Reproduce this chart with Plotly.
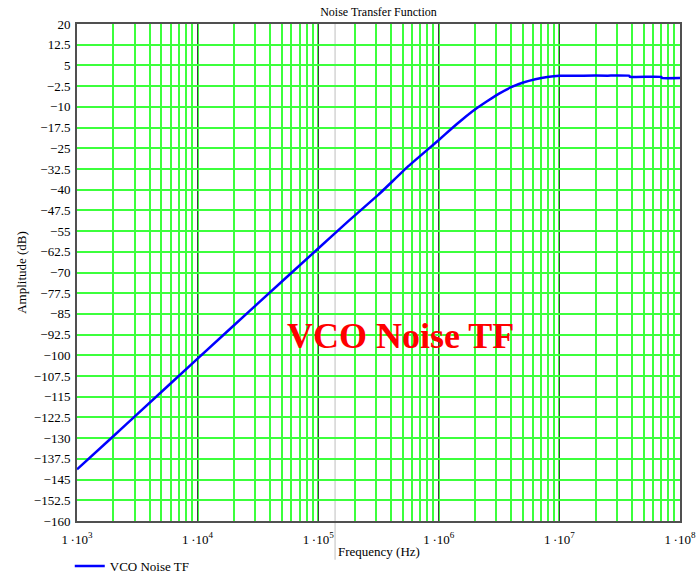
import plotly.graph_objects as go

# Data (frequency in Hz, amplitude in dB)
freq_hz = [1.0e3, 2.0e3, 3.162e3, 1.0e4, 3.162e4, 1.0e5, 1.778e5, 3.162e5, 5.623e5,
           1.0e6, 1.259e6, 1.585e6, 1.995e6, 2.512e6, 3.162e6, 3.981e6, 5.012e6,
           6.310e6, 7.943e6, 1.0e7, 1.585e7, 2.512e7, 3.80e7, 3.85e7, 7.0e7, 7.05e7, 1.0e8]
amp_db = [-141.3, -129.3, -121.3, -101.2, -81.2, -61.3, -51.4, -41.8, -31.4,
          -22.0, -18.1, -14.4, -11.0, -8.0, -5.2, -2.9, -1.2,
          0.0, 0.8, 1.25, 1.3, 1.3, 1.25, 0.85, 0.85, 0.45, 0.4]

series_name = "VCO Noise TF"
x_title = "Frequency (Hz)"
x_tick_vals = [1e3, 1e4, 1e5, 1e6, 1e7, 1e8]
x_tick_text = ["1\u2009·10<sup>%d</sup>" % e for e in range(3, 9)]

serif = "Liberation Serif"
green = "rgb(60,255,60)"

fig = go.Figure()
fig.add_trace(go.Scatter(
    x=freq_hz, y=amp_db, mode="lines", name=series_name,
    line=dict(color="#0000ff", width=2.5, shape="spline", smoothing=0.3),
))

fig.update_layout(
    width=697, height=577,
    margin=dict(l=77, r=17, t=24, b=56, autoexpand=False),
    paper_bgcolor="white", plot_bgcolor="white",
    font=dict(family=serif, size=13, color="black"),
    title=dict(text="Noise Transfer Function", x=0.543, xanchor="center",
               y=1 - 12 / 577, yanchor="middle", yref="container",
               font=dict(family=serif, size=12, color="black")),
    showlegend=True,
    legend=dict(x=-0.012, xanchor="left", y=1 - 566 / 577, yanchor="middle",
                yref="container",
                bgcolor="rgba(0,0,0,0)", font=dict(family=serif, size=13),
                itemwidth=30),
    annotations=[
        dict(text="<b>VCO Noise TF</b>", xref="paper", yref="paper",
             x=0.536, y=0.372, xanchor="center", yanchor="middle",
             showarrow=False, font=dict(family=serif, size=36, color="#ff0000")),
        dict(text=x_title, xref="paper", yref="paper",
             x=0.5, y=-0.061, xanchor="center", yanchor="middle",
             showarrow=False, font=dict(family=serif, size=13, color="black")),
    ],
    shapes=[dict(type="line", xref="paper", yref="paper", x0=0.428, x1=0.428,
                 y0=-0.078, y1=1, line=dict(color="#d4d4d4", width=1.5), layer="below")],
)

fig.update_xaxes(
    type="log", range=[3, 8], automargin=False,
    tickmode="array", tickvals=x_tick_vals, ticktext=x_tick_text,
    ticks="", ticklabelstandoff=5,
    showgrid=True, gridcolor="#404040", gridwidth=1,
    minor=dict(dtick="D1", showgrid=True, gridcolor=green, gridwidth=1.5, ticks=""),
    showline=True, linecolor="#505050", linewidth=2, mirror=True,
    zeroline=False,
)
fig.update_yaxes(
    range=[-160, 20], tick0=-160, dtick=7.5, automargin=False,
    ticks="", ticklabelstandoff=2,
    showgrid=True, gridcolor=green, gridwidth=1.5,
    showline=True, linecolor="#505050", linewidth=2, mirror=True,
    zeroline=False,
    title=dict(text="Amplitude (dB)", standoff=4, font=dict(family=serif, size=13)),
)

fig.write_html("out.html", config={"displayModeBar": False},
               post_script="document.body.style.margin='0';")
